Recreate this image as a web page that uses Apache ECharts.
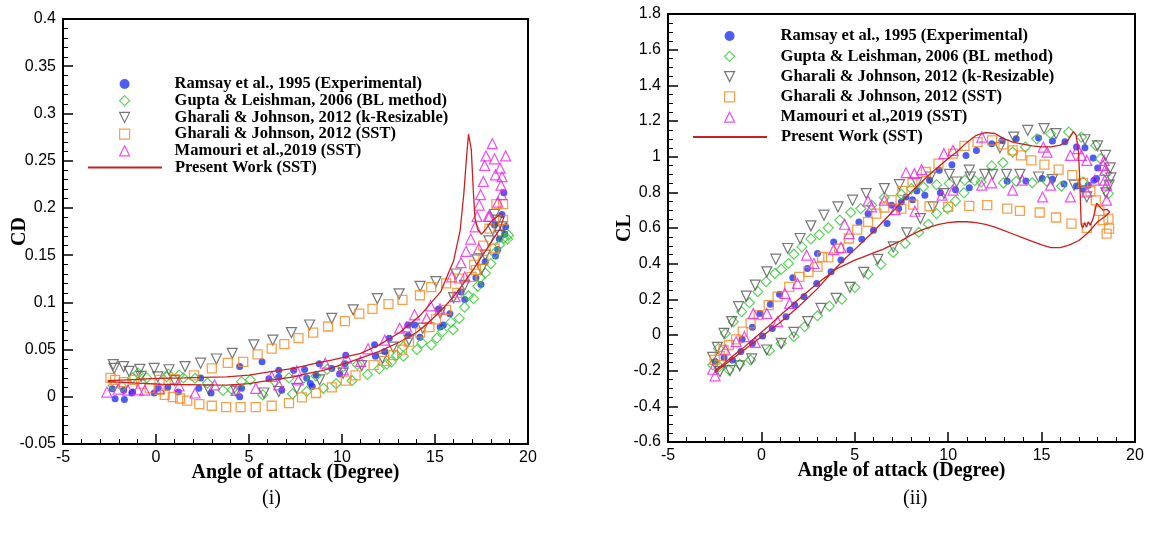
<!DOCTYPE html>
<html>
<head>
<meta charset="utf-8">
<script src="https://cdn.jsdelivr.net/npm/echarts@6/dist/echarts.min.js"></script>
<style>
html,body{margin:0;padding:0;background:#fff;}
#chart{width:1149px;height:543px;}
</style>
</head>
<body>
<div id="chart"></div>
<script>
// ---------- Series names ----------
const seriesNames = [
  'Ramsay et al., 1995 (Experimental)',
  'Gupta & Leishman, 2006 (BL method)',
  'Gharali & Johnson, 2012 (k-Resizable)',
  'Gharali & Johnson, 2012 (SST)',
  'Mamouri et al.,2019 (SST)',
  'Present Work (SST)'
];
const panelLabels = ['(i)', '(ii)'];
const xTitle = 'Angle of attack (Degree)';
const yTitles = ['CD', 'CL'];

// ---------- (i) Drag coefficient data [angle, CD] ----------
const cdRamsay = [[-2.35,0.0085],[-2.2,-0.002],[-1.74,0.007],[-1.7,-0.003],[-1.3,0.004],[-1.26,0.005],[-0.1,0.004],[0.1,0.009],[0.63,0.01],[1.2,0.005],[2.3,0.009],[2.4,0.02],[2.96,0.004],[4.5,0.032],[4.5,0.0],[4.6,0.009],[5.7,0.037],[6.07,0.019],[6.6,0.028],[6.6,0.021],[6.76,0.007],[7.4,0.028],[7.99,0.029],[8.1,0.02],[8.3,0.014],[8.4,0.011],[8.6,0.023],[8.78,0.035],[9.45,0.03],[9.87,0.024],[10.16,0.035],[10.2,0.044],[11.75,0.055],[11.8,0.043],[12.3,0.048],[12.54,0.062],[13.55,0.076],[13.57,0.065],[13.9,0.076],[14.19,0.063],[15.2,0.093],[15.28,0.074],[15.45,0.076],[15.8,0.088],[16.4,0.111],[16.6,0.103],[17.2,0.126],[17.47,0.119],[17.7,0.143],[18.2,0.182],[18.25,0.149],[18.37,0.156],[18.46,0.167],[18.6,0.193],[18.7,0.216],[18.75,0.172],[18.8,0.18]];
const cdGupta = [[-2.3,0.012],[-1.83,0.011],[-1.26,0.02],[-0.96,0.025],[-0.5,0.02],[0.57,0.021],[0.66,0.024],[1.25,0.023],[1.47,0.02],[2.1,0.0196],[2.77,0.0145],[3.6,0.0067],[4.1,0.0074],[4.6,0.016],[5.07,0.018],[5.74,0.002],[6.4,0.016],[7.15,0.02],[7.34,0.003],[7.95,0.02],[8.1,0.0056],[8.6,0.022],[9.0,0.009],[9.2,0.029],[9.68,0.0138],[10.06,0.032],[10.54,0.017],[10.83,0.034],[11.37,0.0236],[12.0,0.0296],[12.4,0.0346],[12.65,0.037],[12.94,0.044],[13.3,0.043],[13.3,0.053],[14.03,0.05],[14.3,0.057],[14.8,0.055],[15.1,0.062],[15.4,0.069],[15.86,0.079],[15.97,0.071],[16.3,0.083],[16.59,0.095],[16.8,0.107],[17.07,0.104],[17.3,0.117],[17.44,0.126],[17.7,0.131],[18.0,0.141],[18.2,0.152],[18.47,0.161],[18.7,0.168],[18.9,0.167],[18.95,0.171]];
const cdGharaliK = [[-2.3,0.034],[-2.25,0.03],[-1.74,0.032],[-1.45,0.027],[-0.87,0.029],[-0.8,0.0215],[-0.1,0.03],[0.1,0.021],[0.7,0.0286],[1.0,0.017],[1.56,0.032],[2.4,0.0356],[2.83,0.0074],[3.25,0.04],[4.1,0.046],[4.3,0.006],[5.26,0.055],[5.8,0.004],[6.28,0.06],[6.6,0.0056],[7.28,0.068],[7.57,0.009],[8.26,0.076],[8.8,0.018],[9.45,0.083],[10.06,0.025],[10.6,0.092],[11.06,0.033],[11.9,0.104],[12.17,0.041],[12.75,0.0525],[13.07,0.109],[13.6,0.06],[14.2,0.117],[14.34,0.0726],[15.05,0.122],[15.28,0.0885],[16.0,0.105],[16.14,0.13],[16.59,0.118],[17.25,0.145],[17.5,0.135],[17.7,0.15],[17.9,0.165],[18.1,0.177],[18.2,0.193],[18.37,0.187],[18.5,0.171],[18.6,0.18]];
const cdGharaliSST = [[-2.45,0.02],[-2.2,0.018],[-1.74,0.0155],[-1.16,0.018],[-0.8,0.014],[-0.34,0.009],[0.19,0.0074],[0.47,0.002],[0.9,-0.0004],[1.3,-0.0018],[1.68,-0.004],[2.33,-0.0078],[3.0,-0.0095],[3.77,-0.011],[4.55,-0.011],[5.36,-0.011],[6.22,-0.0095],[7.15,-0.0067],[7.85,-0.0007],[8.6,0.004],[9.45,0.01],[10.2,0.017],[10.73,0.0226],[11.7,0.0335],[12.27,0.038],[12.75,0.044],[13.23,0.05],[13.6,0.0585],[14.2,0.068],[14.7,0.0737],[15.05,0.082],[15.6,0.092],[16.2,0.11],[16.97,0.127],[17.2,0.134],[17.6,0.145],[17.93,0.178],[18.2,0.157],[18.3,0.204],[18.66,0.204],[18.66,0.187],[0.19,0.018],[1.0,0.0187],[2.04,0.0226],[3.0,0.03],[3.86,0.036],[4.69,0.037],[5.46,0.045],[6.22,0.051],[6.9,0.0557],[7.66,0.062],[8.45,0.068],[9.25,0.0744],[10.16,0.08],[10.93,0.088],[11.64,0.093],[12.5,0.098],[13.25,0.1026],[14.19,0.1075],[14.8,0.116],[15.6,0.12],[16.3,0.125],[17.1,0.14],[17.6,0.16]];
const cdMamouri = [[-2.64,0.005],[-2.03,0.008],[-1.5,0.007],[-0.97,0.0074],[-0.6,0.007],[0.18,0.009],[1.24,0.0116],[2.1,0.004],[3.15,0.0127],[4.3,0.0067],[5.36,0.009],[6.22,0.0215],[6.6,0.0127],[7.57,0.0275],[7.66,0.018],[9.1,0.0356],[10.06,0.0286],[10.25,0.041],[11.0,0.0374],[11.4,0.0508],[12.3,0.06],[13.1,0.0726],[13.48,0.074],[13.9,0.0868],[14.55,0.083],[14.76,0.0963],[15.27,0.093],[15.9,0.127],[16.08,0.106],[16.4,0.142],[16.6,0.127],[16.67,0.154],[16.92,0.167],[17.16,0.18],[17.26,0.191],[17.35,0.157],[17.38,0.203],[17.45,0.214],[17.6,0.228],[17.67,0.245],[17.74,0.255],[17.87,0.191],[17.93,0.191],[18.08,0.268],[18.2,0.252],[18.25,0.235],[18.38,0.206],[18.5,0.242],[18.55,0.224],[18.58,0.214],[18.6,0.233],[18.8,0.255]];
const cdPresent = [[-2.6,0.017],[-1.5,0.018],[-0.5,0.019],[0.2,0.0195],[1.5,0.02],[2.5,0.0205],[3.8,0.021],[5,0.023],[6,0.026],[7.4,0.03],[8.5,0.035],[9.5,0.039],[11,0.046],[12,0.055],[13.1,0.068],[14.2,0.086],[15.3,0.111],[16.0,0.144],[16.35,0.176],[16.55,0.215],[16.7,0.255],[16.8,0.278],[16.87,0.28],[16.95,0.262],[17.06,0.218],[17.15,0.189],[17.3,0.177],[17.5,0.172],[17.75,0.178],[18.0,0.185],[18.3,0.19],[18.55,0.194],[18.7,0.19],[18.5,0.178],[18.0,0.163],[17.5,0.148],[17.0,0.133],[16.5,0.119],[16.0,0.106],[15.5,0.095],[15.0,0.085],[14.5,0.076],[14.0,0.068],[13.1,0.058],[12,0.048],[11,0.041],[10,0.034],[9,0.028],[8,0.024],[7.4,0.021],[6,0.017],[5,0.014],[3.8,0.0124],[2.5,0.0125],[1,0.013],[0.2,0.0134],[-1,0.0145],[-2,0.0155],[-2.6,0.016]];

// ---------- (ii) Lift coefficient data [angle, CL] ----------
const clRamsay = [[-2.48,-0.149],[-2.0,-0.127],[-1.55,-0.14],[-1.1,-0.093],[-1.03,-0.024],[-0.48,-0.047],[-0.48,0.043],[-0.08,0.121],[0.06,-0.006],[0.48,0.172],[0.58,0.037],[0.97,0.229],[1.32,0.103],[1.68,0.321],[1.78,0.168],[2.28,0.215],[2.46,0.373],[2.96,0.289],[3.0,0.457],[3.73,0.354],[3.87,0.522],[4.26,0.42],[4.74,0.476],[5.22,0.634],[5.38,0.537],[5.71,0.68],[6.0,0.588],[6.73,0.625],[6.97,0.728],[7.35,0.709],[7.49,0.746],[7.74,0.774],[8.09,0.759],[8.32,0.808],[8.75,0.784],[9.0,0.868],[9.52,0.924],[9.58,0.797],[10.2,0.955],[10.39,0.815],[10.95,1.006],[11.13,0.826],[11.51,1.035],[12.33,1.073],[12.89,1.09],[13.16,0.862],[13.64,1.1],[14.16,0.864],[14.84,1.104],[15.03,0.877],[15.58,1.088],[15.58,0.873],[16.25,1.084],[16.2,0.847],[16.87,1.054],[16.87,0.836],[17.32,1.05],[17.22,0.82],[17.5,0.84],[17.76,0.993],[17.8,0.868],[18.0,0.937],[17.94,0.877]];
const clGupta = [[-2.6,-0.168],[-2.3,-0.075],[-1.93,0.009],[-1.5,0.075],[-1.06,0.131],[-0.64,0.181],[-0.19,0.243],[0.25,0.299],[0.72,0.345],[1.06,0.368],[1.45,0.401],[1.74,0.453],[2.17,0.494],[2.65,0.539],[3.1,0.563],[3.58,0.601],[4.2,0.644],[4.78,0.687],[5.32,0.709],[5.9,0.728],[6.58,0.771],[7.49,0.789],[8.03,0.821],[8.67,0.83],[9.38,0.843],[10.06,0.849],[10.89,0.868],[11.42,0.866],[12.33,0.948],[12.93,0.966],[13.45,1.026],[14.13,1.054],[14.74,1.1],[15.48,1.129],[16.45,1.138],[17.13,1.11],[17.9,1.063],[18.15,0.989],[18.48,0.909],[18.58,0.793],[17.22,0.858],[16.06,0.834],[15.29,0.862],[14.5,0.854],[13.64,0.862],[12.96,0.853],[11.76,0.858],[10.84,0.797],[10.39,0.752],[9.97,0.709],[9.38,0.681],[8.94,0.621],[8.42,0.575],[7.7,0.513],[7.06,0.463],[6.39,0.396],[5.71,0.341],[5.0,0.267],[4.3,0.201],[3.64,0.162],[3.0,0.108],[2.32,0.047],[1.74,-0.009],[1.06,-0.047],[0.43,-0.088],[-0.58,-0.14],[-1.16,-0.164],[-1.74,-0.196],[-2.26,-0.177]];
const clGharaliK = [[-2.61,-0.125],[-2.36,-0.069],[-2.0,0.009],[-1.59,0.075],[-1.22,0.159],[-0.81,0.218],[-0.33,0.28],[0.29,0.354],[0.77,0.425],[1.41,0.485],[2.07,0.541],[2.65,0.612],[3.35,0.672],[4.1,0.718],[4.88,0.756],[5.61,0.793],[6.58,0.821],[7.39,0.843],[8.32,0.854],[9.06,0.886],[10.06,0.901],[11.13,0.924],[11.96,0.901],[12.77,1.05],[13.51,1.11],[14.26,1.147],[15.13,1.157],[15.77,1.129],[17.32,1.095],[17.99,1.06],[18.42,1.007],[18.67,0.937],[18.71,0.881],[18.61,0.84],[18.44,0.797],[17.42,0.774],[16.74,0.84],[15.58,0.871],[14.84,0.886],[13.84,0.901],[13.12,0.901],[12.38,0.901],[11.18,0.886],[10.45,0.858],[9.77,0.793],[9.19,0.718],[8.51,0.653],[7.78,0.573],[7.06,0.494],[6.23,0.424],[5.48,0.351],[4.74,0.267],[4.0,0.205],[3.19,0.149],[2.48,0.075],[1.74,0.015],[1.06,-0.047],[0.29,-0.084],[-0.52,-0.134],[-1.16,-0.173],[-1.68,-0.2],[-2.22,-0.205]];
const clGharaliSST = [[-2.5,-0.14],[-2.23,-0.118],[-2.03,-0.084],[-1.74,-0.056],[-1.35,-0.024],[-1.0,0.019],[-0.58,0.065],[-0.15,0.112],[0.39,0.168],[0.87,0.215],[1.49,0.27],[2.03,0.326],[2.52,0.354],[3.0,0.382],[3.25,0.438],[3.58,0.435],[4.16,0.485],[4.68,0.541],[5.13,0.591],[5.71,0.634],[6.15,0.681],[6.58,0.715],[6.97,0.756],[7.55,0.808],[8.09,0.858],[8.8,0.914],[9.48,0.961],[10.26,1.017],[10.87,1.06],[11.57,1.082],[12.35,1.091],[12.96,1.069],[13.45,1.035],[13.9,1.007],[14.45,0.979],[15.15,0.955],[15.91,0.927],[16.64,0.896],[17.22,0.853],[17.61,0.806],[17.9,0.755],[18.09,0.696],[18.29,0.644],[18.58,0.653],[18.48,0.569],[18.61,0.597],[17.42,0.601],[16.6,0.625],[15.77,0.659],[14.9,0.687],[13.84,0.696],[13.16,0.709],[12.09,0.728],[11.13,0.724],[10.0,0.718],[9.0,0.722],[8.13,0.731],[7.49,0.709]];
const clMamouri = [[-2.48,-0.229],[-2.61,-0.192],[-1.93,-0.084],[-1.35,-0.037],[-0.91,-0.009],[-0.33,-0.041],[-0.43,0.121],[0.29,0.121],[0.87,0.075],[1.26,0.233],[1.51,0.177],[1.93,0.289],[2.42,0.448],[2.81,0.401],[3.87,0.479],[4.26,0.491],[4.45,0.621],[4.7,0.569],[5.71,0.752],[5.9,0.718],[6.58,0.756],[7.16,0.703],[7.74,0.91],[8.19,0.905],[8.57,0.927],[8.22,0.694],[9.67,0.784],[9.77,1.017],[10.26,1.035],[10.26,0.812],[11.8,1.11],[11.8,0.84],[12.33,0.853],[13.45,0.812],[13.97,0.868],[15.09,1.054],[15.29,1.026],[15.05,0.774],[15.48,0.84],[16.54,0.774],[16.54,1.007],[16.93,1.045],[17.13,1.007],[17.42,0.979],[17.42,0.802],[17.84,0.868],[18.29,0.951],[18.35,0.979],[18.38,0.923],[18.38,0.868],[18.48,0.756],[18.48,0.84]];
const clPresent = [[-2.5,-0.21],[-2,-0.17],[-1,-0.09],[0,-0.01],[1,0.07],[2,0.16],[3,0.26],[3.85,0.36],[4.5,0.43],[5,0.48],[6,0.58],[7,0.69],[8,0.8],[9,0.9],[10,0.99],[10.5,1.03],[11,1.08],[11.5,1.12],[12,1.135],[12.5,1.13],[13,1.1],[13.5,1.08],[14,1.07],[14.5,1.06],[15,1.055],[15.5,1.055],[16,1.065],[16.4,1.09],[16.7,1.14],[16.85,1.12],[16.98,1.02],[17.05,0.85],[17.12,0.62],[17.2,0.6],[17.3,0.63],[17.4,0.605],[17.5,0.635],[17.6,0.615],[17.75,0.65],[17.95,0.74],[18.1,0.72],[18.3,0.7],[18.5,0.705],[18.65,0.69],[18.7,0.68],[18.4,0.665],[18.0,0.635],[17.5,0.575],[17.0,0.53],[16.5,0.505],[16.0,0.49],[15.5,0.49],[15.0,0.505],[14.5,0.525],[14.0,0.545],[13.5,0.565],[13.0,0.585],[12.5,0.605],[12.0,0.62],[11.5,0.63],[11.0,0.635],[10.5,0.635],[10.0,0.63],[9.5,0.62],[9.0,0.605],[8.5,0.585],[8.0,0.56],[7.5,0.53],[7.0,0.505],[6.5,0.48],[6.0,0.46],[5.5,0.44],[5.0,0.42],[4.5,0.395],[4.0,0.37],[3.5,0.33],[3.0,0.29],[2.5,0.245],[2.0,0.2],[1.5,0.155],[1.0,0.11],[0.5,0.06],[0,0.015],[-0.5,-0.03],[-1,-0.075],[-1.5,-0.115],[-2,-0.16],[-2.5,-0.2]];

// ---------- Styles ----------
const SERIF = '"Liberation Serif","Times New Roman",serif';
const SANS = '"Liberation Sans",Arial,sans-serif';
const DOWN_TRIANGLE = 'path://M0,0L10,0L5,10Z';
const markerStyles = [
  {symbol:'circle', size:7, rotate:0, icon:null, itemStyle:{color:'#1f33f2', borderWidth:0}},
  {symbol:'diamond', size:10, rotate:0, icon:null, itemStyle:{color:'rgba(0,0,0,0)', borderColor:'#35c935', borderWidth:1.2}},
  {symbol:'triangle', size:10, rotate:180, icon:DOWN_TRIANGLE, itemStyle:{color:'rgba(0,0,0,0)', borderColor:'#555555', borderWidth:1.2}},
  {symbol:'rect', size:9, rotate:0, icon:null, itemStyle:{color:'rgba(0,0,0,0)', borderColor:'#f58a1f', borderWidth:1.3}},
  {symbol:'triangle', size:10, rotate:0, icon:null, itemStyle:{color:'rgba(0,0,0,0)', borderColor:'#ee22ee', borderWidth:1.2}}
];
const lineColor = '#cc2020';

function scatterSeries(idx, data, panel) {
  const m = markerStyles[idx];
  return {
    name: seriesNames[idx], type:'scatter', xAxisIndex:panel, yAxisIndex:panel,
    data: data, symbol:m.symbol, symbolSize:m.size, symbolRotate:m.rotate,
    itemStyle: m.itemStyle, emphasis:{disabled:true}, z:2
  };
}
function lineSeries(data, panel) {
  return {
    name: seriesNames[5], type:'line', xAxisIndex:panel, yAxisIndex:panel,
    data:data, symbol:'none', showSymbol:false, smooth:false,
    lineStyle:{color:lineColor, width:1.3},
    itemStyle:{color:'rgba(0,0,0,0)', borderColor:'rgba(0,0,0,0)', borderWidth:0},
    emphasis:{disabled:true}, z:3
  };
}

function xAxisCfg(g) {
  return {
    gridIndex:g, type:'value', min:-5, max:20, interval:5,
    name:xTitle, nameLocation:'middle', nameGap:19, nameMoveOverlap:false,
    nameTextStyle:{fontFamily:SERIF, fontWeight:'bold', fontSize:20, color:'#000'},
    axisLine:{show:true, onZero:false, lineStyle:{color:'#000', width:2}},
    axisTick:{show:true, inside:true, length:10, lineStyle:{color:'#000', width:1.5}},
    minorTick:{show:true, splitNumber:5, length:5, lineStyle:{color:'#000', width:1}},
    splitLine:{show:false},
    axisLabel:{fontFamily:SANS, fontSize:16, color:'#000', margin:6}
  };
}
function yAxisCfg(g, min, max, interval, minorSplit, name) {
  return {
    gridIndex:g, type:'value', min:min, max:max, interval:interval,
    name:name, nameLocation:'middle', nameGap:33, nameRotate:90, nameMoveOverlap:false,
    nameTextStyle:{fontFamily:SERIF, fontWeight:'bold', fontSize:20, color:'#000'},
    axisLine:{show:true, onZero:false, lineStyle:{color:'#000', width:2}},
    axisTick:{show:true, inside:true, length:10, lineStyle:{color:'#000', width:1.5}},
    minorTick:{show:true, splitNumber:minorSplit, length:5, lineStyle:{color:'#000', width:1}},
    splitLine:{show:false},
    axisLabel:{fontFamily:SANS, fontSize:16, color:'#000', margin:7}
  };
}
// Marker legend (square icons) and line legend (long line icon)
function legendCfg(items, left, top, gap, iconW, textPad) {
  return {
    orient:'vertical', left:left, top:top, padding:0,
    itemWidth:iconW, itemHeight:10, itemGap:gap,
    selectedMode:false,
    data: items,
    itemStyle:{borderWidth:1.2},
    textStyle:{fontFamily:SERIF, fontWeight:'bold', fontSize:16.5, color:'#000', padding:[0,0,0,textPad]}
  };
}
const markerItems = markerStyles.map((m, i) => m.icon ? {name: seriesNames[i], icon: m.icon} : {name: seriesNames[i]});
const lineItems = [{name: seriesNames[5]}];

const chart = echarts.init(document.getElementById('chart'), null, {renderer:'canvas'});
chart.setOption({
  animation:false,
  backgroundColor:'#fff',
  title:[
    {text:panelLabels[0], left:262, top:489, padding:0, textStyle:{fontFamily:SERIF, fontWeight:'normal', fontSize:20, color:'#000'}},
    {text:panelLabels[1], left:903, top:489, padding:0, textStyle:{fontFamily:SERIF, fontWeight:'normal', fontSize:20, color:'#000'}}
  ],
  grid:[
    {left:63, top:19, width:465, height:425, show:true, borderColor:'#000', borderWidth:2, backgroundColor:'rgba(0,0,0,0)'},
    {left:668, top:14, width:467, height:428, show:true, borderColor:'#000', borderWidth:2, backgroundColor:'rgba(0,0,0,0)'}
  ],
  xAxis:[xAxisCfg(0), xAxisCfg(1)],
  yAxis:[
    yAxisCfg(0, -0.05, 0.4, 0.05, 5, yTitles[0]),
    yAxisCfg(1, -0.6, 1.8, 0.2, 4, yTitles[1])
  ],
  legend:[
    legendCfg(markerItems, 119, 75.5, -0.3, 10, 40),
    legendCfg(lineItems, 87, 159, 0, 74, 8),
    legendCfg(markerItems, 724, 27.5, 3.3, 10, 41),
    legendCfg(lineItems, 692, 128.5, 0, 74, 9)
  ],
  series:[
    scatterSeries(0, cdRamsay, 0),
    scatterSeries(1, cdGupta, 0),
    scatterSeries(2, cdGharaliK, 0),
    scatterSeries(3, cdGharaliSST, 0),
    scatterSeries(4, cdMamouri, 0),
    lineSeries(cdPresent, 0),
    scatterSeries(0, clRamsay, 1),
    scatterSeries(1, clGupta, 1),
    scatterSeries(2, clGharaliK, 1),
    scatterSeries(3, clGharaliSST, 1),
    scatterSeries(4, clMamouri, 1),
    lineSeries(clPresent, 1)
  ]
});
</script>
</body>
</html>
